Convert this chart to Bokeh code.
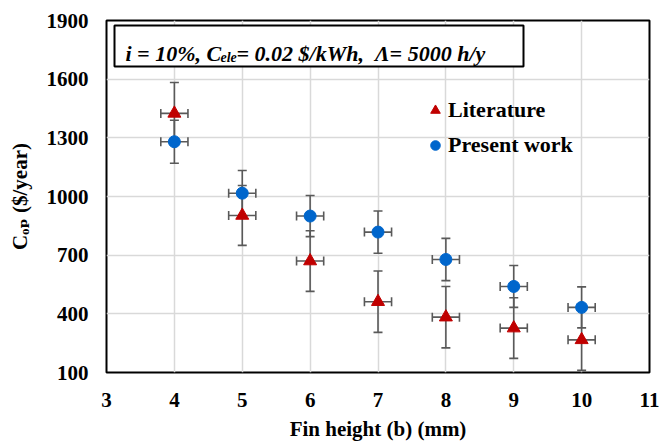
import math
from bokeh.plotting import figure
from bokeh.models import (ColumnDataSource, Whisker, TeeHead, Legend, LegendItem,
                          Label, BoxAnnotation, FixedTicker, Range1d)
from bokeh.embed import file_html
from bokeh.resources import INLINE

# ---- data ----
fin_height = [4, 5, 6, 7, 8, 9, 10]
literature = [1425, 903, 670, 462, 383, 327, 267]
literature_err = [158, 153, 155, 157, 157, 155, 156]
present_work = [1280, 1017, 900, 818, 678, 540, 433]
present_err = [110, 116, 105, 108, 108, 107, 105]
x_err = [0.2, 0.2, 0.2, 0.2, 0.2, 0.2, 0.2]
x_ticks = [3, 4, 5, 6, 7, 8, 9, 10, 11]
y_ticks = [100, 400, 700, 1000, 1300, 1600, 1900]

FONT = "'Liberation Serif', 'Times New Roman', 'DejaVu Serif', serif"
ERR_COLOR = "#595959"
RED = "#C00000"
BLUE = "#0066CC"

lit_src = ColumnDataSource(dict(
    x=fin_height, y=literature,
    lo=[v - e for v, e in zip(literature, literature_err)],
    hi=[v + e for v, e in zip(literature, literature_err)],
    xl=[a - e for a, e in zip(fin_height, x_err)],
    xu=[a + e for a, e in zip(fin_height, x_err)],
))
pw_src = ColumnDataSource(dict(
    x=fin_height, y=present_work,
    lo=[v - e for v, e in zip(present_work, present_err)],
    hi=[v + e for v, e in zip(present_work, present_err)],
    xl=[a - e for a, e in zip(fin_height, x_err)],
    xu=[a + e for a, e in zip(fin_height, x_err)],
))

p = figure(width=659, height=443, output_backend="svg", toolbar_location=None,
           x_range=Range1d(3, 11), y_range=Range1d(100, 1900),
           min_border_left=106, min_border_right=10, min_border_top=20, min_border_bottom=71)

p.background_fill_color = "white"
p.border_fill_color = "white"
p.outline_line_color = "black"
p.outline_line_width = 2

p.xaxis.ticker = FixedTicker(ticks=x_ticks)
p.yaxis.ticker = FixedTicker(ticks=y_ticks)
for ax in (p.xaxis, p.yaxis):
    ax.axis_line_color = None
    ax.major_tick_line_color = None
    ax.minor_tick_line_color = None
    ax.major_tick_out = 0
    ax.major_tick_in = 0
    ax.major_label_text_font = FONT
    ax.major_label_text_font_style = "bold"
    ax.major_label_text_font_size = "21px"
    ax.major_label_text_color = "black"
    ax.axis_label_text_font = FONT
    ax.axis_label_text_font_style = "bold"
    ax.axis_label_text_font_size = "21px"
    ax.axis_label_text_color = "black"
p.yaxis.major_label_standoff = 18
p.xaxis.major_label_standoff = 20
p.xaxis.axis_label = "Fin height (b) (mm)"
p.xaxis.axis_label_standoff = 7
p.yaxis.axis_label = "C\u2092\u209a ($/year)"
p.yaxis.axis_label_standoff = 12

p.grid.grid_line_color = "#d9d9d9"
p.grid.grid_line_width = 1.5

# error bars
for src in (lit_src, pw_src):
    p.add_layout(Whisker(source=src, base="x", lower="lo", upper="hi", dimension="height",
                         line_color=ERR_COLOR, line_width=1.6,
                         lower_head=TeeHead(size=9, line_color=ERR_COLOR, line_width=1.6),
                         upper_head=TeeHead(size=9, line_color=ERR_COLOR, line_width=1.6)))
    p.add_layout(Whisker(source=src, base="y", lower="xl", upper="xu", dimension="width",
                         line_color=ERR_COLOR, line_width=1.6,
                         lower_head=TeeHead(size=9, line_color=ERR_COLOR, line_width=1.6),
                         upper_head=TeeHead(size=9, line_color=ERR_COLOR, line_width=1.6)))

r_lit = p.scatter("x", "y", source=lit_src, marker="triangle", size=13,
                  fill_color=RED, line_color=RED)
r_pw = p.scatter("x", "y", source=pw_src, marker="circle", size=12,
                 fill_color=BLUE, line_color=BLUE)

legend = Legend(items=[LegendItem(label="Literature", renderers=[r_lit]),
                       LegendItem(label="Present work", renderers=[r_pw])],
                location=(317, 214), border_line_color=None, background_fill_alpha=0,
                label_text_font=FONT, label_text_font_style="bold",
                label_text_font_size="22px", label_text_color="black",
                glyph_width=24, glyph_height=26, label_height=26, spacing=9,
                padding=0, margin=0, label_standoff=1)
p.add_layout(legend)

# parameter box
p.add_layout(BoxAnnotation(left=8, right=417, top=347, bottom=306,
                           left_units="screen", right_units="screen",
                           top_units="screen", bottom_units="screen",
                           fill_color="white", fill_alpha=1.0,
                           line_color="black", line_alpha=1.0, line_width=2))

def lab(x, y, text, size, style="bold italic"):
    p.add_layout(Label(x=x, y=y, x_units="screen", y_units="screen", text=text,
                       text_font=FONT, text_font_style=style, text_font_size=size,
                       text_color="black", text_baseline="alphabetic", text_align="left"))

lab(19, 319, "i = 10%, C", "22px")
lab(114, 315, "ele", "14px")
lab(130, 319, "= 0.02 $/kWh,\u00a0\u00a0\u039b= 5000 h/y", "22px")

open("out.html", "w").write(file_html(p, INLINE))
